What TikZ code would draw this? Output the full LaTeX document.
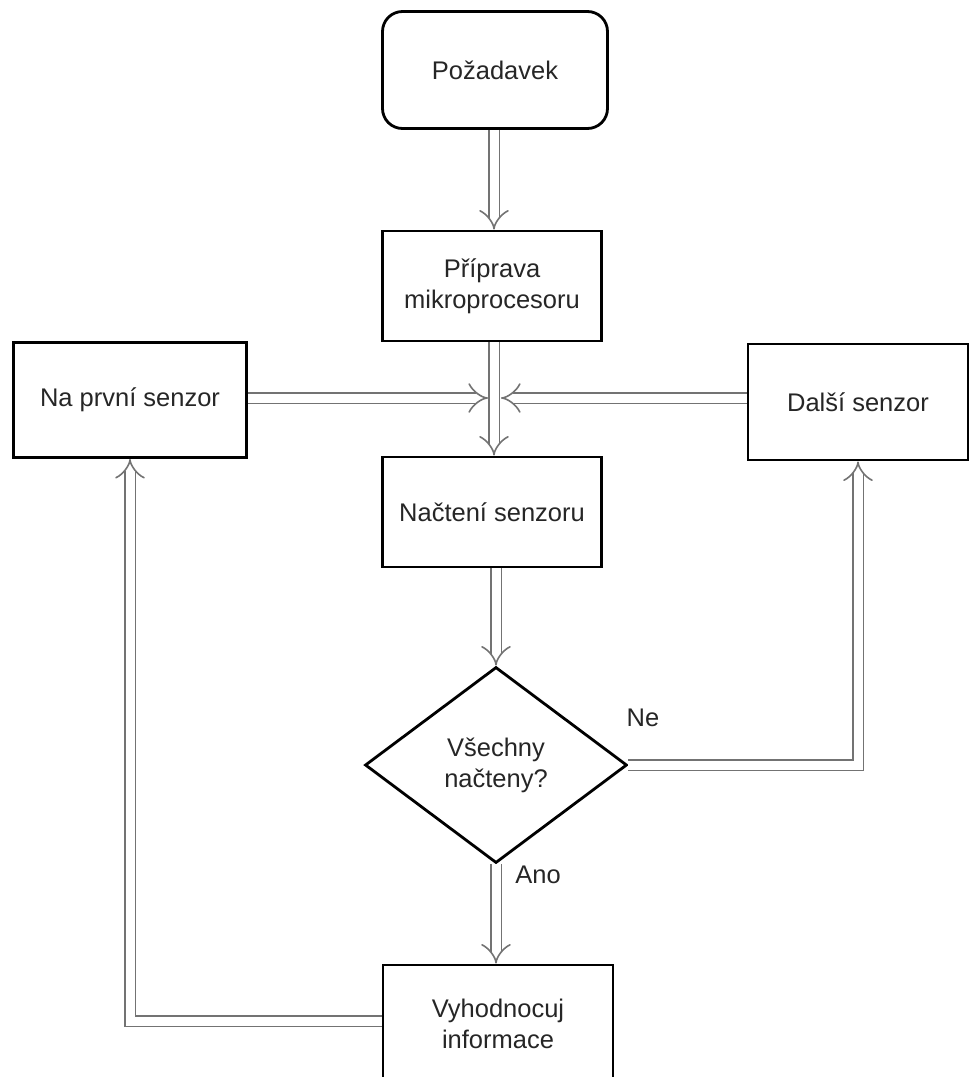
\documentclass[tikz,border=0pt]{standalone}
\usepackage{fontspec}
\setmainfont{Liberation Sans}
\usetikzlibrary{arrows.meta,shapes.geometric}

\begin{document}
\begin{tikzpicture}[
    x=1pt, y=-1pt,
    every node/.style={font=\fontsize{25.5}{31}\selectfont, text=black!85, align=center},
    box/.style={draw, line width=2.8pt, inner sep=0pt},
    startbox/.style={box, rounded corners=20pt},
    decision/.style={draw, line width=2.8pt, diamond, inner sep=0pt},
    flow/.style={draw=black!55, line width=1.6pt, double=white, double distance=9pt, -{Implies}}
]
\useasboundingbox (0,0) rectangle (969,1077);

\node[startbox, minimum width=225pt, minimum height=117pt] (req) at (495,70) {Požadavek};
\node[box, minimum width=219pt, minimum height=110pt] (prep) at (492,286) {Příprava\\mikroprocesoru};
\node[box, minimum width=233pt, minimum height=115pt] (first) at (130,400) {Na první senzor};
\node[box, minimum width=220pt, minimum height=116pt] (next) at (858,402) {Další senzor};
\node[box, minimum width=219pt, minimum height=110pt] (load) at (492,512) {Načtení senzoru};
\node[decision, minimum width=262pt, minimum height=196pt] (check) at (496,765) {Všechny\\načteny?};
\node[box, minimum width=230pt, minimum height=118pt] (eval) at (498,1024) {Vyhodnocuj\\informace};

\node (ne) at (643,718) {Ne};
\node (ano) at (538,875) {Ano};

\coordinate (jl) at (488,398);
\coordinate (jr) at (501,398);

\draw[flow] (req.south -| 494,0) -- (prep.north -| 494,0);
\draw[flow] (prep.south -| 494,0) -- (load.north -| 494,0);
\draw[flow] (first.east |- jl) -- (jl);
\draw[flow] (next.west |- jr) -- (jr);
\draw[flow] (load.south -| 496,0) -- (check.north);
\draw[flow] (check.east) -| (next.south);
\draw[flow] (check.south) -- (eval.north -| check.south);
\draw[flow] (eval.west |- 0,1021) -| (first.south);
\end{tikzpicture}
\end{document}
